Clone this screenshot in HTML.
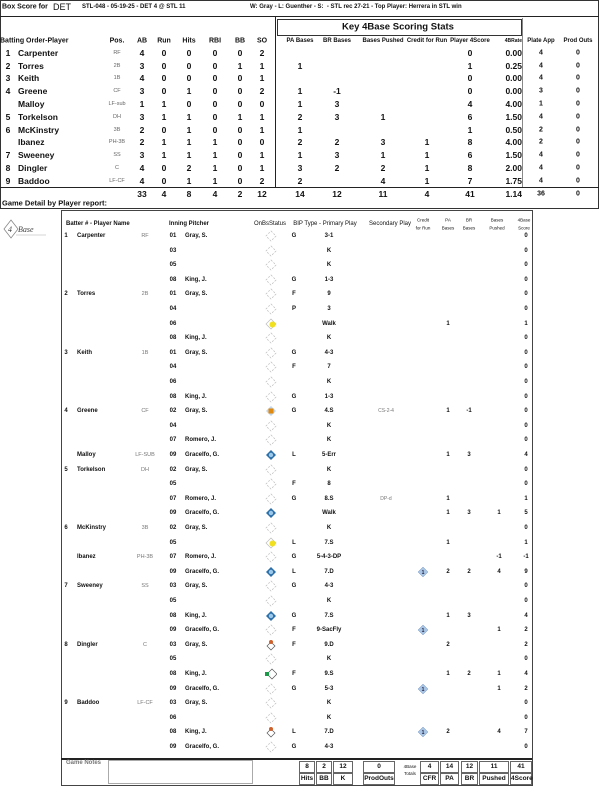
<!DOCTYPE html>
<html><head><meta charset="utf-8"><style>
body{margin:0;width:600px;height:786px;background:#fff;position:relative;overflow:hidden;font-family:"Liberation Sans",sans-serif;color:#111}
.r{position:absolute;left:0;width:600px;height:0}
.r span{position:absolute;transform:translate(-50%,-50%);white-space:nowrap;font-weight:bold}
.r svg{display:block}
.t{font-size:8.5px}
.t .nm{transform:translate(0,-50%)}
.t .ps{font-size:5.5px;font-weight:normal;color:#666}
.t .rt{transform:translate(-100%,-50%)}
.n{left:8px}.nm{left:18px}.ps{left:117px}.ab{left:142px}.ru{left:164px}.hi{left:189px}.rb{left:215px}.bb{left:240px}.so{left:262px}
.pa{left:300px}.br{left:337px}.pu{left:383px}.cf{left:427px}.p4{left:470px}.rt{left:522px}.pl{left:541px}.po{left:578px}
.t .pl,.t .po{font-size:7px}
.d{font-size:6px}
.d .bn{left:66px}.d .bm{left:77px;transform:translate(0,-50%)}.d .bp{left:145px;font-weight:normal;color:#777;font-size:5.5px}
.d .in{left:173px}.d .pi{left:185px;transform:translate(0,-50%)}.d .ty{left:294px}.d .pp{left:329px}.d .sp{left:386px;font-weight:normal;color:#777;font-size:5px}
.d .dc{left:423px}.d .dp{left:448px}.d .db{left:469px}.d .du{left:499px}.d .ds{left:526px}
.d .ob{left:271px;line-height:0}
.box{position:absolute;border:1px solid #555}
.ln{position:absolute;background:#222}
.tb{position:absolute;border:1px solid #666;font-size:6.5px;font-weight:bold;text-align:center;line-height:10px;height:10px}
.hd span{font-size:6px !important}
</style></head><body>
<div class="box" style="left:0;top:0;width:597px;height:207px;border:1px solid #333"></div>
<div class="ln" style="left:0;top:16px;width:599px;height:1px"></div>
<div class="ln" style="left:275px;top:16px;width:1px;height:171px"></div>
<div class="ln" style="left:522px;top:18px;width:1px;height:170px;background:#888"></div>
<div class="ln" style="left:0;top:187px;width:599px;height:1px"></div>
<div class="box" style="left:277px;top:19px;width:243px;height:15px;border:1.5px solid #333"></div>
<div class="r" style="top:27px"><span style="left:398px;font-size:9.5px;font-weight:bold">Key 4Base Scoring Stats</span></div>
<div class="r t" style="top:7px;font-size:7px"><span style="left:2px;transform:translate(0,-50%);font-size:7px">Box Score for</span><span style="left:53px;transform:translate(0,-50%);font-size:9px;font-weight:normal">DET</span><span style="left:82px;transform:translate(0,-50%);font-size:6px">STL-048 - 05-19-25 - DET 4 @ STL 11</span><span style="left:250px;transform:translate(0,-50%);font-size:6px">W: Gray - L: Guenther - S: &nbsp;- STL rec 27-21 - Top Player: Herrera in STL win</span></div>
<div class="r t" style="top:41px;font-size:7px"><span class="nm" style="left:0;font-size:7px">Batting Order-Player</span><span class="ps" style="font-size:7px;font-weight:bold;color:#111">Pos.</span><span class="ab" style="font-size:7px">AB</span><span class="ru" style="font-size:7px">Run</span><span class="hi" style="font-size:7px">Hits</span><span class="rb" style="font-size:7px">RBI</span><span class="bb" style="font-size:7px">BB</span><span class="so" style="font-size:7px">SO</span></div>
<div class="r t hd" style="top:41px"><span class="pa">PA Bases</span><span class="br">BR Bases</span><span class="pu">Bases Pushed</span><span class="cf">Credit for Run</span><span class="p4">Player 4Score</span><span class="rt" style="font-size:5px !important">4BRate</span><span class="pl">Plate App</span><span class="po">Prod Outs</span></div>
<div class="r t" style="top:53px"><span class="n">1</span><span class="nm">Carpenter</span><span class="ps">RF</span><span class="ab">4</span><span class="ru">0</span><span class="hi">0</span><span class="rb">0</span><span class="bb">0</span><span class="so">2</span><span class="p4">0</span><span class="rt">0.00</span><span class="pl">4</span><span class="po">0</span></div>
<div class="r t" style="top:66px"><span class="n">2</span><span class="nm">Torres</span><span class="ps">2B</span><span class="ab">3</span><span class="ru">0</span><span class="hi">0</span><span class="rb">0</span><span class="bb">1</span><span class="so">1</span><span class="pa">1</span><span class="p4">1</span><span class="rt">0.25</span><span class="pl">4</span><span class="po">0</span></div>
<div class="r t" style="top:78px"><span class="n">3</span><span class="nm">Keith</span><span class="ps">1B</span><span class="ab">4</span><span class="ru">0</span><span class="hi">0</span><span class="rb">0</span><span class="bb">0</span><span class="so">1</span><span class="p4">0</span><span class="rt">0.00</span><span class="pl">4</span><span class="po">0</span></div>
<div class="r t" style="top:91px"><span class="n">4</span><span class="nm">Greene</span><span class="ps">CF</span><span class="ab">3</span><span class="ru">0</span><span class="hi">1</span><span class="rb">0</span><span class="bb">0</span><span class="so">2</span><span class="pa">1</span><span class="br">-1</span><span class="p4">0</span><span class="rt">0.00</span><span class="pl">3</span><span class="po">0</span></div>
<div class="r t" style="top:104px"><span class="nm">Malloy</span><span class="ps">LF-sub</span><span class="ab">1</span><span class="ru">1</span><span class="hi">0</span><span class="rb">0</span><span class="bb">0</span><span class="so">0</span><span class="pa">1</span><span class="br">3</span><span class="p4">4</span><span class="rt">4.00</span><span class="pl">1</span><span class="po">0</span></div>
<div class="r t" style="top:117px"><span class="n">5</span><span class="nm">Torkelson</span><span class="ps">DH</span><span class="ab">3</span><span class="ru">1</span><span class="hi">1</span><span class="rb">0</span><span class="bb">1</span><span class="so">1</span><span class="pa">2</span><span class="br">3</span><span class="pu">1</span><span class="p4">6</span><span class="rt">1.50</span><span class="pl">4</span><span class="po">0</span></div>
<div class="r t" style="top:130px"><span class="n">6</span><span class="nm">McKinstry</span><span class="ps">3B</span><span class="ab">2</span><span class="ru">0</span><span class="hi">1</span><span class="rb">0</span><span class="bb">0</span><span class="so">1</span><span class="pa">1</span><span class="p4">1</span><span class="rt">0.50</span><span class="pl">2</span><span class="po">0</span></div>
<div class="r t" style="top:142px"><span class="nm">Ibanez</span><span class="ps">PH-3B</span><span class="ab">2</span><span class="ru">1</span><span class="hi">1</span><span class="rb">1</span><span class="bb">0</span><span class="so">0</span><span class="pa">2</span><span class="br">2</span><span class="pu">3</span><span class="cf">1</span><span class="p4">8</span><span class="rt">4.00</span><span class="pl">2</span><span class="po">0</span></div>
<div class="r t" style="top:155px"><span class="n">7</span><span class="nm">Sweeney</span><span class="ps">SS</span><span class="ab">3</span><span class="ru">1</span><span class="hi">1</span><span class="rb">1</span><span class="bb">0</span><span class="so">1</span><span class="pa">1</span><span class="br">3</span><span class="pu">1</span><span class="cf">1</span><span class="p4">6</span><span class="rt">1.50</span><span class="pl">4</span><span class="po">0</span></div>
<div class="r t" style="top:168px"><span class="n">8</span><span class="nm">Dingler</span><span class="ps">C</span><span class="ab">4</span><span class="ru">0</span><span class="hi">2</span><span class="rb">1</span><span class="bb">0</span><span class="so">1</span><span class="pa">3</span><span class="br">2</span><span class="pu">2</span><span class="cf">1</span><span class="p4">8</span><span class="rt">2.00</span><span class="pl">4</span><span class="po">0</span></div>
<div class="r t" style="top:181px"><span class="n">9</span><span class="nm">Baddoo</span><span class="ps">LF-CF</span><span class="ab">4</span><span class="ru">0</span><span class="hi">1</span><span class="rb">1</span><span class="bb">0</span><span class="so">2</span><span class="pa">2</span><span class="pu">4</span><span class="cf">1</span><span class="p4">7</span><span class="rt">1.75</span><span class="pl">4</span><span class="po">0</span></div>
<div class="r t" style="top:194px"><span class="ab">33</span><span class="ru">4</span><span class="hi">8</span><span class="rb">4</span><span class="bb">2</span><span class="so">12</span><span class="pa">14</span><span class="br">12</span><span class="pu">11</span><span class="cf">4</span><span class="p4">41</span><span class="rt">1.14</span><span class="pl">36</span><span class="po">0</span></div>
<div class="r t" style="top:203px"><span class="nm" style="left:2px;font-size:7.5px">Game Detail by Player report:</span></div>

<svg style="position:absolute;left:2px;top:218px" width="48" height="26"><polygon points="9,2 16,11 9,20 2,11" fill="none" stroke="#888" stroke-width="0.8"/><text x="6" y="14" font-size="8" font-style="italic" font-family="Liberation Serif" fill="#444">4</text><text x="16" y="14" font-size="8" font-style="italic" font-family="Liberation Serif" fill="#444">Base</text><line x1="14" y1="17" x2="44" y2="17" stroke="#aaa" stroke-width="0.5"/></svg>

<div class="box" style="left:61px;top:210px;width:470px;height:574px;border:1px solid #444"></div>
<div class="ln" style="left:61px;top:758px;width:471px;height:1.5px"></div>
<div class="r d" style="top:224px;font-size:6px"><span style="left:66px;transform:translate(0,-50%)">Batter # - Player Name</span><span style="left:169px;transform:translate(0,-50%)">Inning Pitcher</span><span style="left:270px;font-weight:normal">OnBsStatus</span><span style="left:325px;font-weight:normal">BIP Type - Primary Play</span><span style="left:390px;font-weight:normal">Secondary Play</span>
<span style="left:423px;top:-4px;font-weight:normal;font-size:4.5px">Credit</span><span style="left:423px;top:4px;font-weight:normal;font-size:4.5px">for Run</span><span style="left:448px;top:-4px;font-weight:normal;font-size:4.5px">PA</span><span style="left:448px;top:4px;font-weight:normal;font-size:4.5px">Bases</span><span style="left:469px;top:-4px;font-weight:normal;font-size:4.5px">BR</span><span style="left:469px;top:4px;font-weight:normal;font-size:4.5px">Bases</span><span style="left:497px;top:-4px;font-weight:normal;font-size:4.5px">Bases</span><span style="left:497px;top:4px;font-weight:normal;font-size:4.5px">Pushed</span><span style="left:524px;top:-4px;font-weight:normal;font-size:4.5px">4Base</span><span style="left:524px;top:4px;font-weight:normal;font-size:4.5px">Score</span></div>

<svg width="0" height="0" style="position:absolute"><defs>
<g id="e"><polygon points="6,1 11,6 6,11 1,6" fill="none" stroke="#bbb" stroke-width="0.7" stroke-dasharray="2,1.5"/></g>
<g id="b"><polygon points="6,1 11,6 6,11 1,6" fill="#2a6fa8"/><circle cx="6" cy="6" r="2.2" fill="#9cc8ea"/></g>
<g id="y"><polygon points="6,1 11,6 6,11 1,6" fill="none" stroke="#bbb" stroke-width="0.7"/><circle cx="7.5" cy="6.5" r="3" fill="#f0e020"/></g>
<g id="o"><polygon points="6,1 11,6 6,11 1,6" fill="#c0d4ea"/><rect x="3.5" y="3.5" width="5" height="5" fill="#e08a10"/></g>
<g id="f"><polygon points="6,3 10,7 6,11 2,7" fill="none" stroke="#555" stroke-width="0.7"/><circle cx="6" cy="3" r="2" fill="#d0602a"/></g>
<g id="g"><polygon points="7,1 12,6 7,11 2,6" fill="none" stroke="#555" stroke-width="0.7"/><rect x="0" y="4" width="4" height="4" fill="#1c9a4a"/></g>
<g id="c"><polygon points="6,1 11,6 6,11 1,6" fill="#a8c4e4" stroke="#7a9cc8" stroke-width="0.5"/><text x="6" y="8" font-size="5" text-anchor="middle" fill="#224" font-family="Liberation Sans">1</text></g>
</defs></svg>

<div class="r d" style="top:236px"><span class="bn">1</span><span class="bm">Carpenter</span><span class="bp">RF</span><span class="in">01</span><span class="pi">Gray, S.</span><span class="ob"><svg width="12" height="12"><use href="#e"/></svg></span><span class="ty">G</span><span class="pp">3-1</span><span class="ds">0</span></div>
<div class="r d" style="top:251px"><span class="in">03</span><span class="ob"><svg width="12" height="12"><use href="#e"/></svg></span><span class="pp">K</span><span class="ds">0</span></div>
<div class="r d" style="top:265px"><span class="in">05</span><span class="ob"><svg width="12" height="12"><use href="#e"/></svg></span><span class="pp">K</span><span class="ds">0</span></div>
<div class="r d" style="top:280px"><span class="in">08</span><span class="pi">King, J.</span><span class="ob"><svg width="12" height="12"><use href="#e"/></svg></span><span class="ty">G</span><span class="pp">1-3</span><span class="ds">0</span></div>
<div class="r d" style="top:294px"><span class="bn">2</span><span class="bm">Torres</span><span class="bp">2B</span><span class="in">01</span><span class="pi">Gray, S.</span><span class="ob"><svg width="12" height="12"><use href="#e"/></svg></span><span class="ty">F</span><span class="pp">9</span><span class="ds">0</span></div>
<div class="r d" style="top:309px"><span class="in">04</span><span class="ob"><svg width="12" height="12"><use href="#e"/></svg></span><span class="ty">P</span><span class="pp">3</span><span class="ds">0</span></div>
<div class="r d" style="top:324px"><span class="in">06</span><span class="ob"><svg width="12" height="12"><use href="#y"/></svg></span><span class="pp">Walk</span><span class="dp">1</span><span class="ds">1</span></div>
<div class="r d" style="top:338px"><span class="in">08</span><span class="pi">King, J.</span><span class="ob"><svg width="12" height="12"><use href="#e"/></svg></span><span class="pp">K</span><span class="ds">0</span></div>
<div class="r d" style="top:353px"><span class="bn">3</span><span class="bm">Keith</span><span class="bp">1B</span><span class="in">01</span><span class="pi">Gray, S.</span><span class="ob"><svg width="12" height="12"><use href="#e"/></svg></span><span class="ty">G</span><span class="pp">4-3</span><span class="ds">0</span></div>
<div class="r d" style="top:367px"><span class="in">04</span><span class="ob"><svg width="12" height="12"><use href="#e"/></svg></span><span class="ty">F</span><span class="pp">7</span><span class="ds">0</span></div>
<div class="r d" style="top:382px"><span class="in">06</span><span class="ob"><svg width="12" height="12"><use href="#e"/></svg></span><span class="pp">K</span><span class="ds">0</span></div>
<div class="r d" style="top:397px"><span class="in">08</span><span class="pi">King, J.</span><span class="ob"><svg width="12" height="12"><use href="#e"/></svg></span><span class="ty">G</span><span class="pp">1-3</span><span class="ds">0</span></div>
<div class="r d" style="top:411px"><span class="bn">4</span><span class="bm">Greene</span><span class="bp">CF</span><span class="in">02</span><span class="pi">Gray, S.</span><span class="ob"><svg width="12" height="12"><use href="#o"/></svg></span><span class="ty">G</span><span class="pp">4.S</span><span class="sp">CS-2-4</span><span class="dp">1</span><span class="db">-1</span><span class="ds">0</span></div>
<div class="r d" style="top:426px"><span class="in">04</span><span class="ob"><svg width="12" height="12"><use href="#e"/></svg></span><span class="pp">K</span><span class="ds">0</span></div>
<div class="r d" style="top:440px"><span class="in">07</span><span class="pi">Romero, J.</span><span class="ob"><svg width="12" height="12"><use href="#e"/></svg></span><span class="pp">K</span><span class="ds">0</span></div>
<div class="r d" style="top:455px"><span class="bm">Malloy</span><span class="bp">LF-SUB</span><span class="in">09</span><span class="pi">Gracelfo, G.</span><span class="ob"><svg width="12" height="12"><use href="#b"/></svg></span><span class="ty">L</span><span class="pp">5-Err</span><span class="dp">1</span><span class="db">3</span><span class="ds">4</span></div>
<div class="r d" style="top:470px"><span class="bn">5</span><span class="bm">Torkelson</span><span class="bp">DH</span><span class="in">02</span><span class="pi">Gray, S.</span><span class="ob"><svg width="12" height="12"><use href="#e"/></svg></span><span class="pp">K</span><span class="ds">0</span></div>
<div class="r d" style="top:484px"><span class="in">05</span><span class="ob"><svg width="12" height="12"><use href="#e"/></svg></span><span class="ty">F</span><span class="pp">8</span><span class="ds">0</span></div>
<div class="r d" style="top:499px"><span class="in">07</span><span class="pi">Romero, J.</span><span class="ob"><svg width="12" height="12"><use href="#e"/></svg></span><span class="ty">G</span><span class="pp">8.S</span><span class="sp">DP-d</span><span class="dp">1</span><span class="ds">1</span></div>
<div class="r d" style="top:513px"><span class="in">09</span><span class="pi">Gracelfo, G.</span><span class="ob"><svg width="12" height="12"><use href="#b"/></svg></span><span class="pp">Walk</span><span class="dp">1</span><span class="db">3</span><span class="du">1</span><span class="ds">5</span></div>
<div class="r d" style="top:528px"><span class="bn">6</span><span class="bm">McKinstry</span><span class="bp">3B</span><span class="in">02</span><span class="pi">Gray, S.</span><span class="ob"><svg width="12" height="12"><use href="#e"/></svg></span><span class="pp">K</span><span class="ds">0</span></div>
<div class="r d" style="top:543px"><span class="in">05</span><span class="ob"><svg width="12" height="12"><use href="#y"/></svg></span><span class="ty">L</span><span class="pp">7.S</span><span class="dp">1</span><span class="ds">1</span></div>
<div class="r d" style="top:557px"><span class="bm">Ibanez</span><span class="bp">PH-3B</span><span class="in">07</span><span class="pi">Romero, J.</span><span class="ob"><svg width="12" height="12"><use href="#e"/></svg></span><span class="ty">G</span><span class="pp">5-4-3-DP</span><span class="du">-1</span><span class="ds">-1</span></div>
<div class="r d" style="top:572px"><span class="in">09</span><span class="pi">Gracelfo, G.</span><span class="ob"><svg width="12" height="12"><use href="#b"/></svg></span><span class="ty">L</span><span class="pp">7.D</span><span class="dc" style="line-height:0"><svg width="12" height="12"><use href="#c"/></svg></span><span class="dp">2</span><span class="db">2</span><span class="du">4</span><span class="ds">9</span></div>
<div class="r d" style="top:586px"><span class="bn">7</span><span class="bm">Sweeney</span><span class="bp">SS</span><span class="in">03</span><span class="pi">Gray, S.</span><span class="ob"><svg width="12" height="12"><use href="#e"/></svg></span><span class="ty">G</span><span class="pp">4-3</span><span class="ds">0</span></div>
<div class="r d" style="top:601px"><span class="in">05</span><span class="ob"><svg width="12" height="12"><use href="#e"/></svg></span><span class="pp">K</span><span class="ds">0</span></div>
<div class="r d" style="top:616px"><span class="in">08</span><span class="pi">King, J.</span><span class="ob"><svg width="12" height="12"><use href="#b"/></svg></span><span class="ty">G</span><span class="pp">7.S</span><span class="dp">1</span><span class="db">3</span><span class="ds">4</span></div>
<div class="r d" style="top:630px"><span class="in">09</span><span class="pi">Gracelfo, G.</span><span class="ob"><svg width="12" height="12"><use href="#e"/></svg></span><span class="ty">F</span><span class="pp">9-SacFly</span><span class="dc" style="line-height:0"><svg width="12" height="12"><use href="#c"/></svg></span><span class="du">1</span><span class="ds">2</span></div>
<div class="r d" style="top:645px"><span class="bn">8</span><span class="bm">Dingler</span><span class="bp">C</span><span class="in">03</span><span class="pi">Gray, S.</span><span class="ob"><svg width="12" height="12"><use href="#f"/></svg></span><span class="ty">F</span><span class="pp">9.D</span><span class="dp">2</span><span class="ds">2</span></div>
<div class="r d" style="top:659px"><span class="in">05</span><span class="ob"><svg width="12" height="12"><use href="#e"/></svg></span><span class="pp">K</span><span class="ds">0</span></div>
<div class="r d" style="top:674px"><span class="in">08</span><span class="pi">King, J.</span><span class="ob"><svg width="12" height="12"><use href="#g"/></svg></span><span class="ty">F</span><span class="pp">9.S</span><span class="dp">1</span><span class="db">2</span><span class="du">1</span><span class="ds">4</span></div>
<div class="r d" style="top:689px"><span class="in">09</span><span class="pi">Gracelfo, G.</span><span class="ob"><svg width="12" height="12"><use href="#e"/></svg></span><span class="ty">G</span><span class="pp">5-3</span><span class="dc" style="line-height:0"><svg width="12" height="12"><use href="#c"/></svg></span><span class="du">1</span><span class="ds">2</span></div>
<div class="r d" style="top:703px"><span class="bn">9</span><span class="bm">Baddoo</span><span class="bp">LF-CF</span><span class="in">03</span><span class="pi">Gray, S.</span><span class="ob"><svg width="12" height="12"><use href="#e"/></svg></span><span class="pp">K</span><span class="ds">0</span></div>
<div class="r d" style="top:718px"><span class="in">06</span><span class="ob"><svg width="12" height="12"><use href="#e"/></svg></span><span class="pp">K</span><span class="ds">0</span></div>
<div class="r d" style="top:732px"><span class="in">08</span><span class="pi">King, J.</span><span class="ob"><svg width="12" height="12"><use href="#f"/></svg></span><span class="ty">L</span><span class="pp">7.D</span><span class="dc" style="line-height:0"><svg width="12" height="12"><use href="#c"/></svg></span><span class="dp">2</span><span class="du">4</span><span class="ds">7</span></div>
<div class="r d" style="top:747px"><span class="in">09</span><span class="pi">Gracelfo, G.</span><span class="ob"><svg width="12" height="12"><use href="#e"/></svg></span><span class="ty">G</span><span class="pp">4-3</span><span class="ds">0</span></div>

<div style="position:absolute;left:66px;top:760px;font-size:6px;font-weight:bold;color:#777">Game Notes</div>
<div class="box" style="left:108px;top:760px;width:143px;height:22px;border-color:#aaa"></div>
<div class="tb" style="left:299px;top:761px;width:14px">8</div><div class="tb" style="left:299px;top:773px;width:14px">Hits</div>
<div class="tb" style="left:316px;top:761px;width:14px">2</div><div class="tb" style="left:316px;top:773px;width:14px">BB</div>
<div class="tb" style="left:333px;top:761px;width:18px">12</div><div class="tb" style="left:333px;top:773px;width:18px">K</div>
<div class="tb" style="left:363px;top:761px;width:30px">0</div><div class="tb" style="left:363px;top:773px;width:30px">ProdOuts</div>
<div style="position:absolute;left:398px;top:763px;font-size:4.5px;text-align:center;line-height:7px;width:24px">4Base<br>Totals</div>
<div class="tb" style="left:420px;top:761px;width:17px">4</div><div class="tb" style="left:420px;top:773px;width:17px">CFR</div>
<div class="tb" style="left:440px;top:761px;width:17px">14</div><div class="tb" style="left:440px;top:773px;width:17px">PA</div>
<div class="tb" style="left:461px;top:761px;width:15px">12</div><div class="tb" style="left:461px;top:773px;width:15px">BR</div>
<div class="tb" style="left:479px;top:761px;width:28px">11</div><div class="tb" style="left:479px;top:773px;width:28px">Pushed</div>
<div class="tb" style="left:510px;top:761px;width:20px">41</div><div class="tb" style="left:510px;top:773px;width:20px">4Score</div>
</body></html>
